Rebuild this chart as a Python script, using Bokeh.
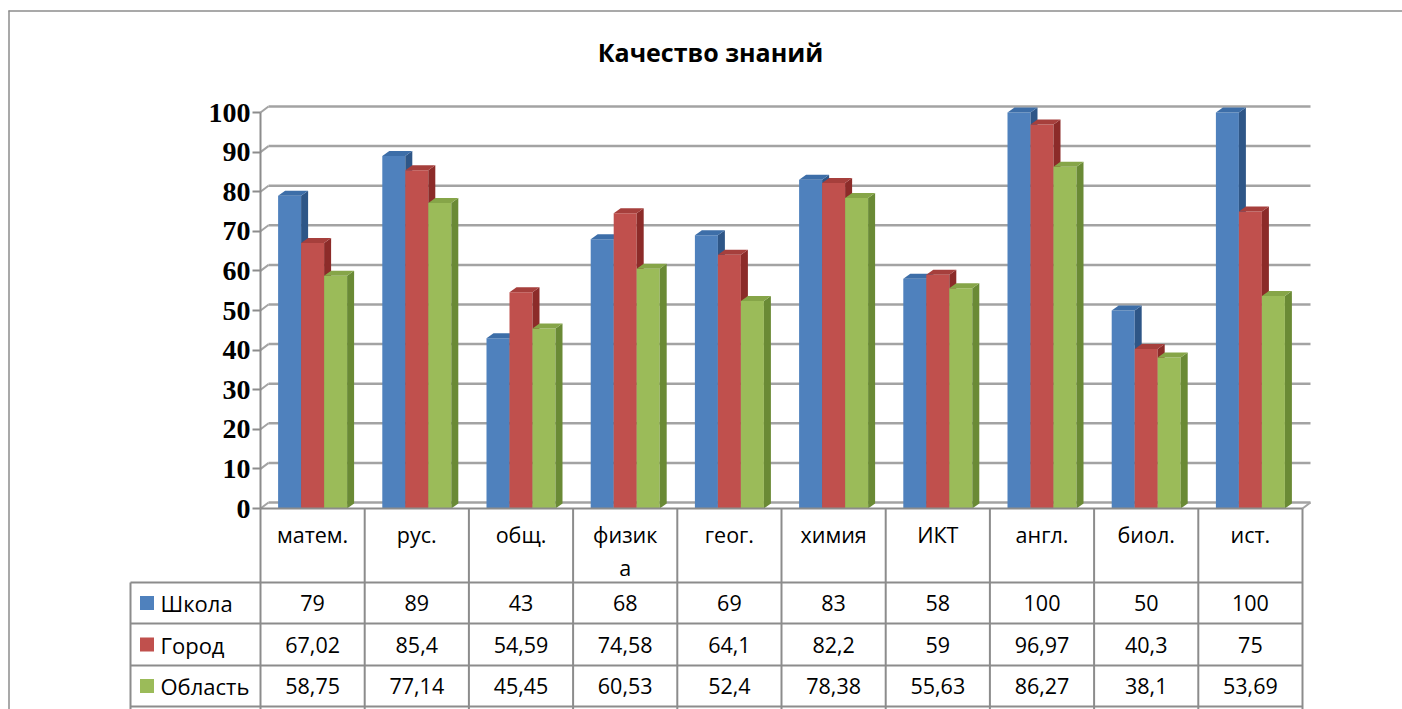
from bokeh.plotting import figure
from bokeh.models import LinearAxis, FixedTicker, Range1d
from bokeh.core.properties import value
from bokeh.embed import file_html
from bokeh.resources import INLINE

# ---------------- data ----------------
title = "Качество знаний"
categories = ["матем.", "рус.", "общ.", "физика", "геог.", "химия", "ИКТ", "англ.", "биол.", "ист."]
series_names = ["Школа", "Город", "Область"]
school = [79, 89, 43, 68, 69, 83, 58, 100, 50, 100]
city = [67.02, 85.4, 54.59, 74.58, 64.1, 82.2, 59, 96.97, 40.3, 75]
region = [58.75, 77.14, 45.45, 60.53, 52.4, 78.38, 55.63, 86.27, 38.1, 53.69]
y_ticks = [0, 10, 20, 30, 40, 50, 60, 70, 80, 90, 100]

# ---------------- layout (pixels of the page) ----------------
W, H = 1402, 709
OFF = 0
CW = 104.2      # px per category
K = 3.96        # px per value unit
X0, Y0 = 260, 508


def dx(px):
    return (px - X0) / CW


def dy(py):
    return (Y0 - py) / K


n = len(categories)
p = figure(width=W, height=H, output_backend="svg", toolbar_location=None,
           x_range=Range1d(dx(OFF), dx(OFF + W)), y_range=Range1d(dy(OFF + H), dy(OFF)),
           x_axis_location=None, y_axis_location=None, min_border=0)
p.grid.visible = False
p.outline_line_color = None
p.background_fill_color = "white"

GRID = "#a3a3a3"
LINE = "#8c8c8c"

# frame of the chart object
p.segment(x0=[dx(8.5)], y0=[dy(10)], x1=[dx(8.5)], y1=[dy(720)], line_color=LINE, line_width=1.5)
p.segment(x0=[dx(8)], y0=[dy(10.5)], x1=[dx(1420)], y1=[dy(10.5)], line_color=LINE, line_width=1.5)

# title
p.text(x=[dx(710)], y=[dy(51)], text=[title], text_font=value("Open Sans"),
       text_font_style="bold", text_font_size="25px", text_align="center",
       text_baseline="middle", text_color="black")

# back wall grid (3D offset)
gdx = 8 / CW
gdy = 6 / K
p.segment(x0=[gdx] * len(y_ticks), y0=[t + gdy for t in y_ticks],
          x1=[n + gdx] * len(y_ticks), y1=[t + gdy for t in y_ticks],
          line_color=GRID, line_width=2.5)
p.segment(x0=[0] * len(y_ticks), y0=y_ticks, x1=[gdx] * len(y_ticks),
          y1=[t + gdy for t in y_ticks], line_color=GRID, line_width=2)
p.segment(x0=[n], y0=[0], x1=[n + gdx], y1=[gdy], line_color=GRID, line_width=2)

# bars
bw = 23 / CW
bdx = 7 / CW
bdy = 5 / K
styles = [("#4F81BD", "#2E5687", "#3D6EA8"),
          ("#C0504D", "#8C2B29", "#A63F3C"),
          ("#9BBB59", "#6A8A35", "#86A548")]
for j, vals in enumerate([school, city, region]):
    front, side, top = styles[j]
    lefts = [i + 0.5 - 1.5 * bw + j * bw for i in range(n)]
    rights = [l + bw for l in lefts]
    p.quad(left=lefts, right=rights, bottom=0, top=vals, fill_color=front, line_color=None)
    p.patches(xs=[[r, r + bdx, r + bdx, r] for r in rights],
              ys=[[0, bdy, v + bdy, v] for v in vals],
              fill_color=side, line_color=None)
    p.patches(xs=[[l, l + bdx, r + bdx, r] for l, r in zip(lefts, rights)],
              ys=[[v, v + bdy, v + bdy, v] for v in vals],
              fill_color=top, line_color=None)

# value axis drawn at the front-left edge
ax = LinearAxis(fixed_location=0, bounds=(0, 100), ticker=FixedTicker(ticks=y_ticks))
ax.axis_line_color = LINE
ax.axis_line_width = 2
ax.major_tick_line_color = LINE
ax.major_tick_line_width = 2
ax.major_tick_out = 8
ax.major_tick_in = 0
ax.minor_tick_out = 0
ax.minor_tick_in = 0
ax.major_label_standoff = 2
ax.major_label_text_font = "Liberation Serif"
ax.major_label_text_font_style = "bold"
ax.major_label_text_font_size = "28px"
ax.major_label_text_color = "black"
p.add_layout(ax, "left")

# data table below the chart
row_tops = [582, 623, 665, 706]
row_centers = [602.5, 644, 685.5]
vx = list(range(n + 1))
p.segment(x0=vx, y0=[0] * len(vx), x1=vx, y1=[dy(720)] * len(vx), line_color=LINE, line_width=2)
p.segment(x0=[dx(130)], y0=[dy(582)], x1=[dx(130)], y1=[dy(720)], line_color=LINE, line_width=2)
p.segment(x0=[0], y0=[0], x1=[n], y1=[0], line_color=LINE, line_width=2)
p.segment(x0=[dx(130)] * len(row_tops), y0=[dy(r) for r in row_tops],
          x1=[n] * len(row_tops), y1=[dy(r) for r in row_tops], line_color=LINE, line_width=2)


def wrap(label):
    letters = sum(ch.isalpha() for ch in label)
    return label[:5] + "\n" + label[5:] if letters > 5 else label


p.text(x=[i + 0.5 for i in range(n)], y=[dy(519)] * n, text=[wrap(c) for c in categories],
       text_font=value("Open Sans"), text_font_size="21.5px", text_align="center",
       text_baseline="top", text_line_height=1.15, text_color="black")


def fmt(v):
    return f"{v:g}".replace(".", ",")


for j, vals in enumerate([school, city, region]):
    yc = dy(row_centers[j])
    p.scatter(x=[dx(146.5)], y=[yc], marker="square", size=14, fill_color=styles[j][0], line_color=None)
    p.text(x=[dx(160)], y=[yc], text=[series_names[j]], text_font=value("Open Sans"),
           text_font_size="22px", text_align="left", text_baseline="middle", text_color="black")
    p.text(x=[i + 0.5 for i in range(n)], y=[yc] * n, text=[fmt(v) for v in vals],
           text_font=value("Open Sans"), text_font_size="21.5px", text_align="center",
           text_baseline="middle", text_color="black")

open("out.html", "w").write(file_html(p, INLINE))
